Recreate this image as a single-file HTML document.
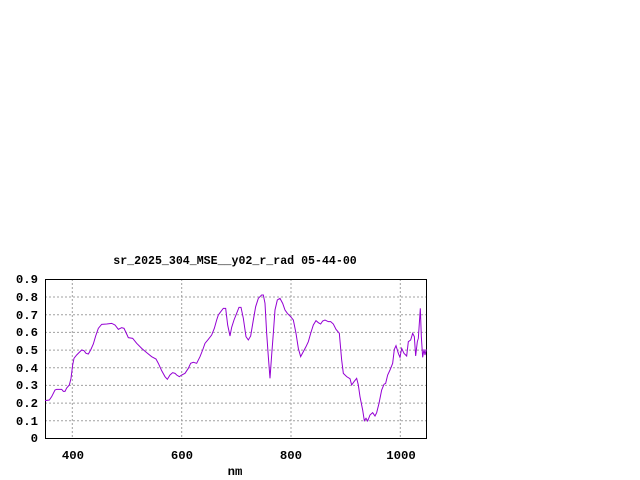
<!DOCTYPE html>
<html><head><meta charset="utf-8"><style>
html,body{margin:0;padding:0;background:#fff;}
svg{display:block;}
text{font-family:"Liberation Mono",monospace;font-weight:bold;font-size:12.3px;fill:#000;}
</style></head><body>
<svg width="640" height="480" viewBox="0 0 640 480" xmlns="http://www.w3.org/2000/svg">
<rect width="640" height="480" fill="#fff"/>
<g stroke="#a0a0a0" stroke-width="1" stroke-dasharray="2,2" fill="none">
<line x1="45" x2="426" y1="420.8" y2="420.8"/>
<line x1="45" x2="426" y1="403.1" y2="403.1"/>
<line x1="45" x2="426" y1="385.4" y2="385.4"/>
<line x1="45" x2="426" y1="367.8" y2="367.8"/>
<line x1="45" x2="426" y1="350.1" y2="350.1"/>
<line x1="45" x2="426" y1="332.4" y2="332.4"/>
<line x1="45" x2="426" y1="314.7" y2="314.7"/>
<line x1="45" x2="426" y1="297.0" y2="297.0"/>
<line x1="72.3" x2="72.3" y1="279" y2="438"/>
<line x1="181.7" x2="181.7" y1="279" y2="438"/>
<line x1="291" x2="291" y1="279" y2="438"/>
<line x1="400.3" x2="400.3" y1="279" y2="438"/>
</g>
<rect x="45.5" y="279.5" width="381" height="159" fill="none" stroke="#000" stroke-width="1"/>
<g transform="translate(0,250) scale(0.33333)">
<polyline fill="none" stroke="#9400d3" stroke-width="3" points="135,452 148,450 155,440 165,420 170,418 185,418 190,424 195,424 200,414 208,405 213,385 218,345 222,325 230,315 240,305 245,300 252,302 258,310 265,312 272,300 280,282 287,258 295,235 305,223 320,222 335,220 345,225 355,238 365,233 372,235 380,252 385,263 398,265 410,280 425,295 440,308 455,320 468,327 475,340 485,362 495,380 502,388 510,375 518,368 525,370 530,375 538,380 545,375 555,370 565,355 572,340 580,337 590,340 600,320 608,300 615,280 625,268 635,255 643,235 650,210 655,195 660,188 670,175 677,175 683,225 690,258 695,232 702,210 710,190 717,172 723,172 730,205 738,260 745,270 752,258 760,210 767,170 775,145 785,135 790,135 795,160 800,250 805,320 810,385 815,315 820,250 825,180 832,150 840,145 848,160 855,180 862,190 872,200 880,210 888,250 895,295 902,320 910,305 918,290 925,275 932,250 940,225 948,212 955,218 962,222 968,213 975,210 985,215 992,215 1000,222 1008,238 1018,250 1025,330 1030,370 1040,380 1050,386 1055,405 1062,395 1070,385 1075,405 1080,440 1088,480 1093,512 1098,505 1103,513 1110,495 1118,488 1125,498 1130,488 1137,460 1145,420 1152,403 1157,400 1163,375 1170,360 1178,340 1183,298 1188,287 1195,310 1200,322 1205,295 1212,310 1220,318 1225,275 1232,270 1238,250 1243,260 1247,318 1252,275 1255,265 1258,220 1261,175 1264,260 1268,322 1272,298 1275,315 1279,298"/>
</g>
<text x="235" y="264" text-anchor="middle" style="font-size:11.6px">sr_2025_304_MSE__y02_r_rad 05-44-00</text>
<g text-anchor="end">
<text x="38" y="442">0</text>
<text x="38" y="425">0.1</text>
<text x="38" y="407">0.2</text>
<text x="38" y="389">0.3</text>
<text x="38" y="372">0.4</text>
<text x="38" y="354">0.5</text>
<text x="38" y="336">0.6</text>
<text x="38" y="319">0.7</text>
<text x="38" y="301">0.8</text>
<text x="38" y="283">0.9</text>
</g>
<g text-anchor="middle">
<text x="73" y="459">400</text>
<text x="182" y="459">600</text>
<text x="291" y="459">800</text>
<text x="401" y="459">1000</text>
<text x="235" y="475">nm</text>
</g>
</svg>
</body></html>
